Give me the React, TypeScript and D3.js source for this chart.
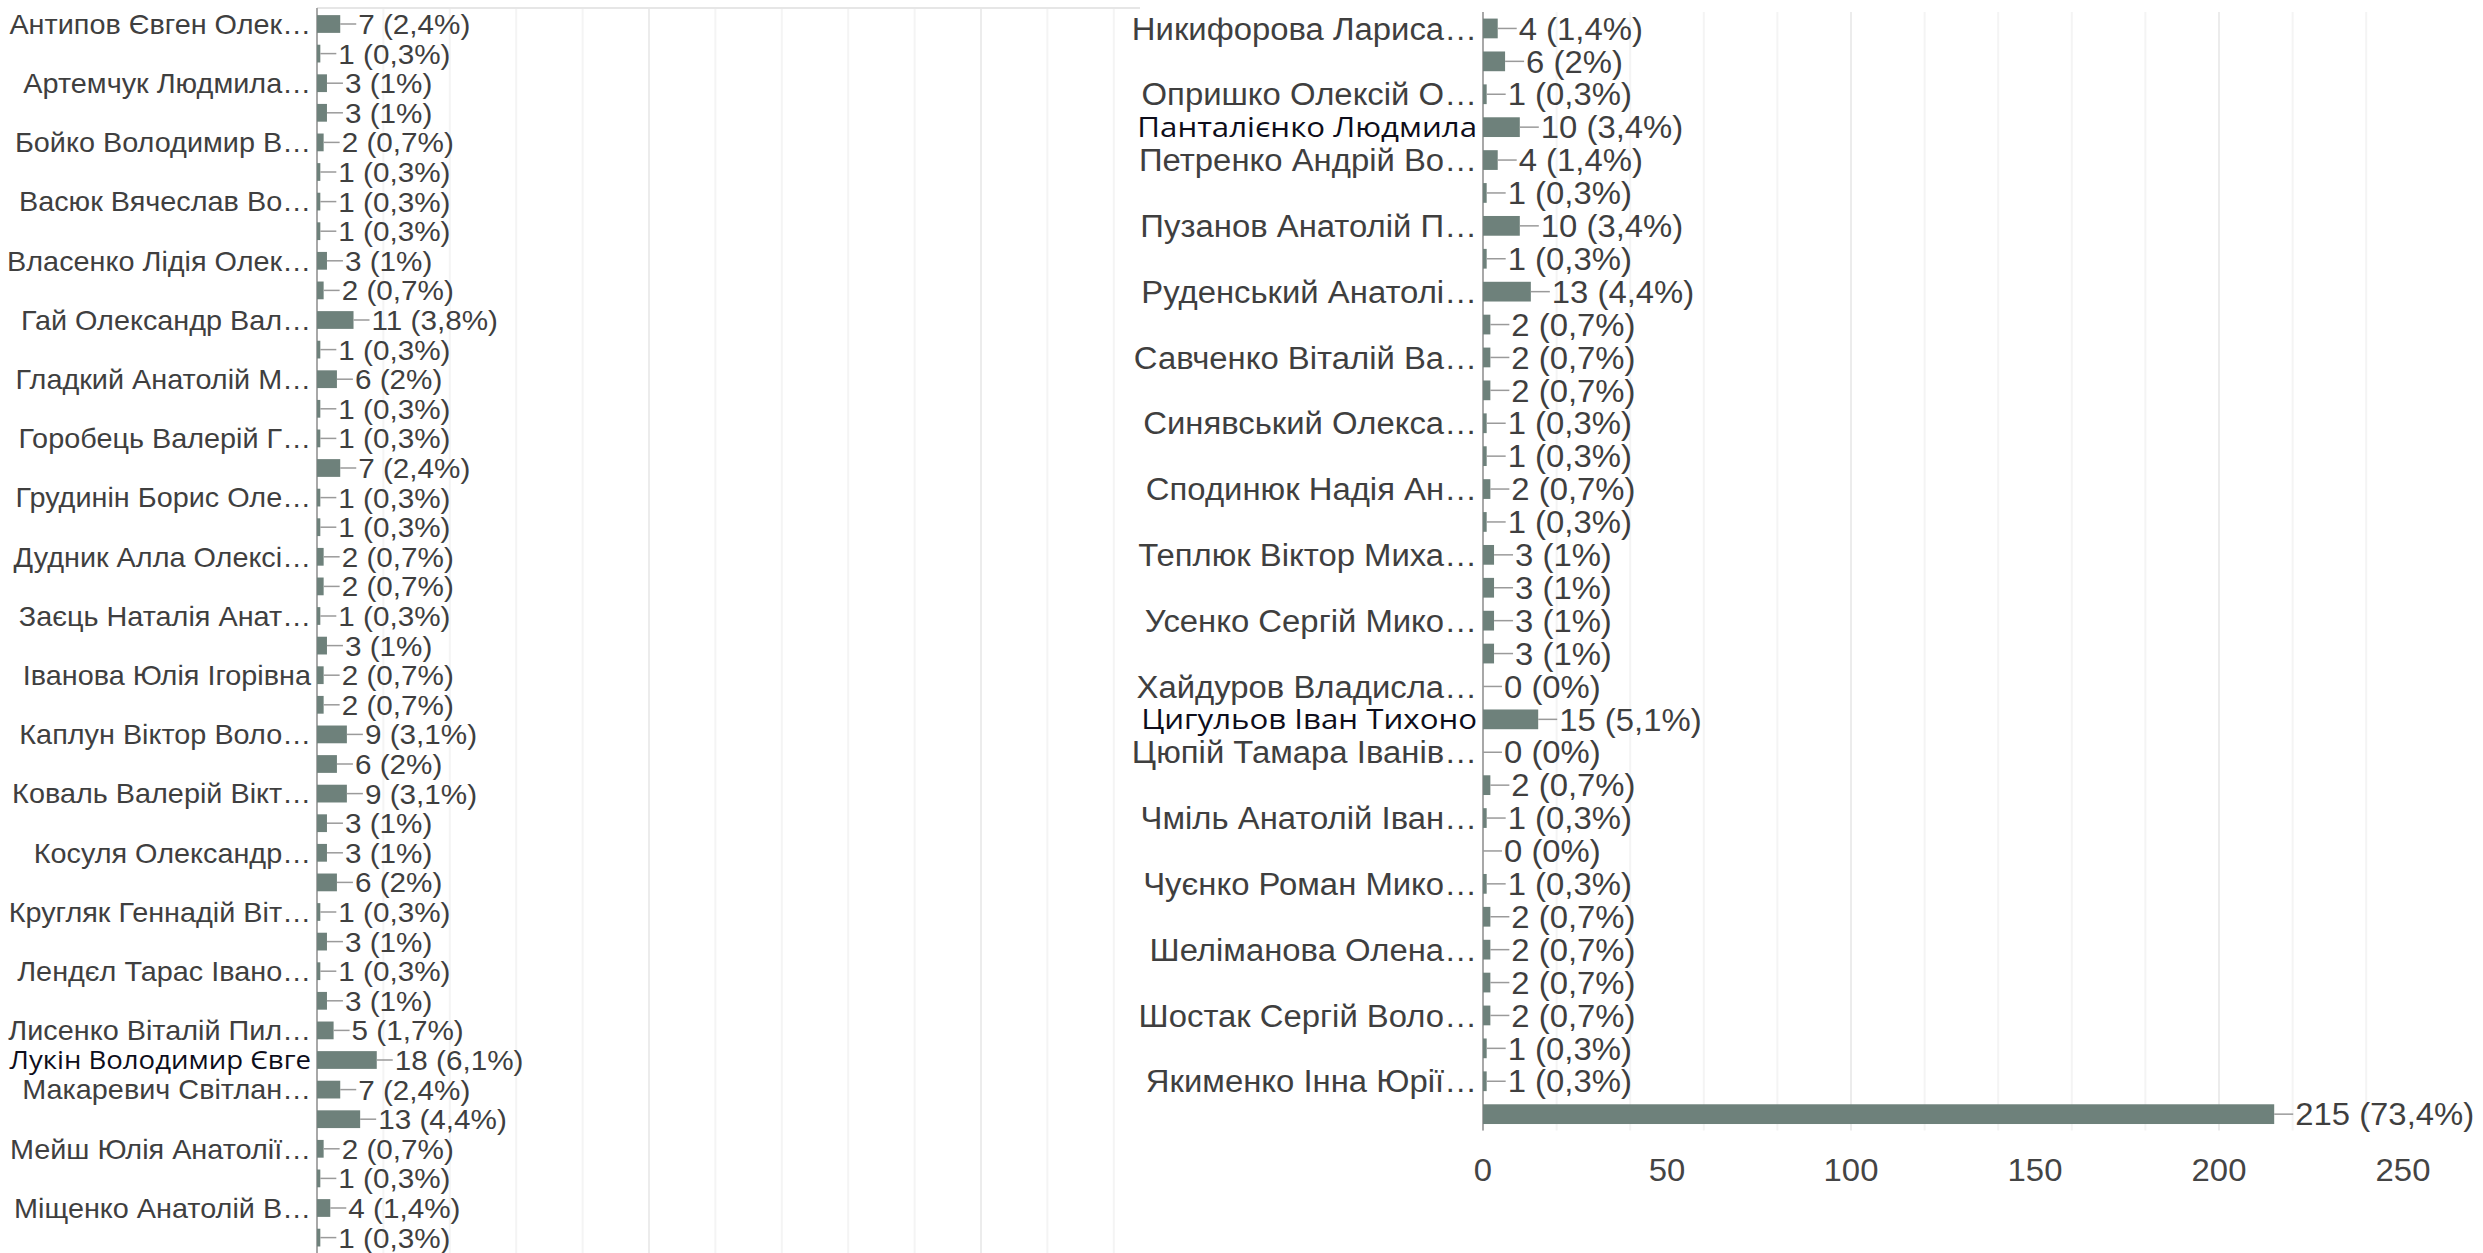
import React, { useEffect } from "react";
import * as d3 from "d3";

const W = 2483;
const H = 1253;

// left column of the response chart (rows shown from the top, many labels skipped)
const leftNames = [
  "Антипов Євген Олек…", "", "Артемчук Людмила…", "", "Бойко Володимир В…", "",
  "Васюк Вячеслав Во…", "", "Власенко Лідія Олек…", "", "Гай Олександр Вал…", "",
  "Гладкий Анатолій М…", "", "Горобець Валерій Г…", "", "Грудинін Борис Оле…", "",
  "Дудник Алла Олексі…", "", "Заєць Наталія Анат…", "", "Іванова Юлія Ігорівна", "",
  "Каплун Віктор Воло…", "", "Коваль Валерій Вікт…", "", "Косуля Олександр…", "",
  "Кругляк Геннадій Віт…", "", "Лендєл Тарас Івано…", "", "Лисенко Віталій Пил…",
  "Лукін Володимир Євге", "Макаревич Світлан…", "", "Мейш Юлія Анатолії…", "",
  "Міщенко Анатолій В…", "",
];
const leftValues = [
  7, 1, 3, 3, 2, 1, 1, 1, 3, 2, 11, 1, 6, 1, 1, 7, 1, 1, 2, 2, 1,
  3, 2, 2, 9, 6, 9, 3, 3, 6, 1, 3, 1, 3, 5, 18, 7, 13, 2, 1, 4, 1,
];
const leftPct = [
  "2,4", "0,3", "1", "1", "0,7", "0,3", "0,3", "0,3", "1", "0,7", "3,8", "0,3", "2", "0,3",
  "0,3", "2,4", "0,3", "0,3", "0,7", "0,7", "0,3", "1", "0,7", "0,7", "3,1", "2", "3,1", "1",
  "1", "2", "0,3", "1", "0,3", "1", "1,7", "6,1", "2,4", "4,4", "0,7", "0,3", "1,4", "0,3",
];

// right column, ends with the unlabeled 215 row and the x axis
const rightNames = [
  "Никифорова Лариса…", "", "Опришко Олексій О…", "Панталієнко Людмила", "Петренко Андрій Во…", "",
  "Пузанов Анатолій П…", "", "Руденський Анатолі…", "", "Савченко Віталій Ва…", "",
  "Синявський Олекса…", "", "Сподинюк Надія Ан…", "", "Теплюк Віктор Миха…", "",
  "Усенко Сергій Мико…", "", "Хайдуров Владисла…", "Цигульов Іван Тихоно", "Цюпій Тамара Іванів…", "",
  "Чміль Анатолій Іван…", "", "Чуєнко Роман Мико…", "", "Шеліманова Олена…", "",
  "Шостак Сергій Воло…", "", "Якименко Інна Юрії…", "",
];
const rightValues = [
  4, 6, 1, 10, 4, 1, 10, 1, 13, 2, 2, 2, 1, 1, 2, 1, 3, 3, 3, 3, 0, 15, 0, 2,
  1, 0, 1, 2, 2, 2, 2, 1, 1, 215,
];
const rightPct = [
  "1,4", "2", "0,3", "3,4", "1,4", "0,3", "3,4", "0,3", "4,4", "0,7", "0,7", "0,7", "0,3", "0,3",
  "0,7", "0,3", "1", "1", "1", "1", "0", "5,1", "0", "0,7", "0,3", "0", "0,3", "0,7", "0,7",
  "0,7", "0,7", "0,3", "0,3", "73,4",
];

// names pasted over the chart in another font
const pastedNames = ["Лукін Володимир Євге", "Панталієнко Людмила", "Цигульов Іван Тихоно"];

const axisTicks = [0, 50, 100, 150, 200, 250];
const xMax = 250;

const BAR = "#6e817b";
const TEXT = "#3f3f3f";
const FONT = "'Liberation Sans', Arial, sans-serif";
const SX = 1.06; // screenshot is a little stretched sideways

type PanelProps = {
  names: string[];
  values: number[];
  pct: string[];
  x0: number;
  x1: number;
  top: number;
  step: number;
  gridTop: number;
  gridBottom: number;
  fs: number;
  nameFs: number;
  pastedFs: number;
  stem: number;
  showAxis?: boolean;
  topLine?: boolean;
};

function Panel(p: PanelProps) {
  const x = d3.scaleLinear().domain([0, xMax]).range([p.x0, p.x1]);
  const y = d3
    .scaleBand<number>()
    .domain(d3.range(p.names.length))
    .range([p.top, p.top + p.step * p.names.length])
    .paddingInner(0.4)
    .paddingOuter(0.2);
  const bw = y.bandwidth();
  const grid = x.ticks(10);

  return (
    <g>
      {grid.map(t => (
        <line
          key={"g" + t}
          x1={x(t)} x2={x(t)} y1={p.gridTop} y2={p.gridBottom}
          stroke={t % 50 === 0 ? "#ececec" : "#f4f4f4"}
          strokeWidth={2}
        />
      ))}
      {p.topLine && (
        <line x1={p.x0} x2={p.x1} y1={p.gridTop} y2={p.gridTop} stroke="#e6e6e6" strokeWidth={2} />
      )}
      <line x1={p.x0} x2={p.x0} y1={p.gridTop} y2={p.gridBottom} stroke="#a8a8a8" strokeWidth={2} />

      {p.values.map((v, i) => {
        const cy = (y(i) ?? 0) + bw / 2;
        const end = x(v);
        const name = p.names[i];
        const pasted = pastedNames.includes(name);
        return (
          <g key={i}>
            {v > 0 && (
              <rect x={x(0)} y={y(i)} width={end - x(0)} height={bw} fill={BAR} />
            )}
            <line x1={end} x2={end + p.stem} y1={cy} y2={cy} stroke="#9a9a9a" strokeWidth={1.5} />
            <text
              transform={`translate(${end + p.stem + 2},${cy}) scale(${SX},1)`}
              dy="0.36em" fontSize={p.fs} fill={TEXT} fontFamily={FONT}
            >
              {`${v} (${p.pct[i]}%)`}
            </text>
            {name && (
              <text
                transform={`translate(${p.x0 - 6},${cy}) scale(${pasted ? 1.12 : SX},1)`}
                dy="0.36em" textAnchor="end"
                fontSize={pasted ? p.pastedFs : p.nameFs}
                fill={pasted ? "#0d0d1a" : TEXT}
                fontFamily={pasted ? "'Open Sans', 'Noto Sans', sans-serif" : FONT}
              >
                {name}
              </text>
            )}
          </g>
        );
      })}

      {p.showAxis &&
        axisTicks.map(t => (
          <text
            key={"t" + t}
            transform={`translate(${x(t)},${p.gridBottom + 39}) scale(${SX},1)`}
            dy="0.36em" textAnchor="middle"
            fontSize={p.fs} fill="#444" fontFamily={FONT}
          >
            {t}
          </text>
        ))}
    </g>
  );
}

export default function App() {
  useEffect(() => {
    document.body.style.margin = "0";
  }, []);

  return (
    <svg
      width={W}
      height={H}
      viewBox={`0 0 ${W} ${H}`}
      style={{ position: "absolute", left: 0, top: 0, display: "block", background: "#fff" }}
    >
      <rect width={W} height={H} fill="#fff" />
      <Panel
        names={leftNames} values={leftValues} pct={leftPct}
        x0={317} x1={1147} top={9.2} step={29.6}
        gridTop={8} gridBottom={H} fs={28} nameFs={27.2} pastedFs={24.6} stem={16} topLine
      />
      {/* second screenshot pasted over the right part */}
      <rect x={1140} y={0} width={W - 1140} height={1200} fill="#fff" />
      <Panel
        names={rightNames} values={rightValues} pct={rightPct}
        x0={1483} x1={2403} top={12} step={32.9}
        gridTop={12} gridBottom={12 + 32.9 * rightNames.length} fs={31} nameFs={31} pastedFs={27.9} stem={19} showAxis
      />
    </svg>
  );
}
